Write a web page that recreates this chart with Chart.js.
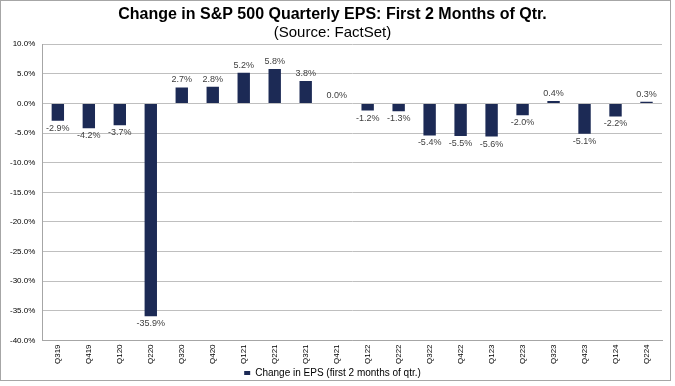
<!DOCTYPE html>
<html><head><meta charset="utf-8">
<script src="https://cdn.jsdelivr.net/npm/chart.js@4.4.1/dist/chart.umd.min.js"></script>
<style>html,body{margin:0;padding:0;background:#fff;}#wrap{width:675px;height:386px;position:relative;}</style>
</head><body><div id="wrap"><canvas id="c" width="675" height="386"></canvas></div>
<script>
const categories = ["Q319","Q419","Q120","Q220","Q320","Q420","Q121","Q221","Q321","Q421","Q122","Q222","Q322","Q422","Q123","Q223","Q323","Q423","Q124","Q224"];
const epsChange = [-2.9,-4.2,-3.7,-35.9,2.7,2.8,5.2,5.8,3.8,0.0,-1.2,-1.3,-5.4,-5.5,-5.6,-2.0,0.4,-5.1,-2.2,0.3];
const yTicks = [10,5,0,-5,-10,-15,-20,-25,-30,-35,-40];

const FONT = "'Liberation Sans', Arial, sans-serif";

const labelPlugin = {
  id: 'vals',
  afterDatasetsDraw(chart) {
    const ctx = chart.ctx;
    const meta = chart.getDatasetMeta(0);
    ctx.save();
    ctx.font = "9px " + FONT;
    ctx.fillStyle = "#404040";
    ctx.textAlign = "center";
    meta.data.forEach((bar, i) => {
      const v = epsChange[i];
      const txt = v.toFixed(1) + "%";
      if (v >= 0) {
        ctx.textBaseline = "bottom";
        ctx.fillText(txt, bar.x, bar.y - 3);
      } else {
        ctx.textBaseline = "top";
        ctx.fillText(txt, bar.x, bar.y + 3);
      }
    });
    ctx.restore();
  }
};
const framePlugin = {
  id: 'frame',
  afterDraw(chart) {
    const ctx = chart.ctx;
    ctx.save();
    ctx.strokeStyle = "#a6a6a6";
    ctx.lineWidth = 1;
    ctx.strokeRect(0.5, 0.5, 670, 380);
    ctx.restore();
  }
};

new Chart(document.getElementById('c'), {
  type: 'bar',
  data: {
    labels: categories,
    datasets: [{
      label: 'Change in EPS (first 2 months of qtr.)',
      data: epsChange,
      backgroundColor: '#1c2a55',
      borderColor: '#1c2a55',
      borderWidth: 0,
      barPercentage: 0.8,
      categoryPercentage: 0.5
    }]
  },
  options: {
    responsive: false,
    animation: false,
    devicePixelRatio: 1,
    layout: { padding: { left: 3, right: 13, top: 5, bottom: -2 } },
    plugins: {
      title: { display: true, text: 'Change in S&P 500 Quarterly EPS: First 2 Months of Qtr.', color: '#000', font: { family: FONT, size: 16, weight: 'bold' }, padding: { top: 0, bottom: 0 } },
      subtitle: { display: true, text: '(Source: FactSet)', color: '#000', font: { family: FONT, size: 15 }, padding: { top: 0, bottom: 2 } },
      legend: { position: 'bottom', labels: { color: '#000', font: { family: FONT, size: 10 }, boxWidth: 6, boxHeight: 4, padding: 0 } },
      tooltip: { enabled: false }
    },
    scales: {
      x: {
        grid: { display: false, drawTicks: false },
        border: { display: true, color: '#a6a6a6' },
        ticks: { color: '#000', font: { family: FONT, size: 8 }, maxRotation: 90, minRotation: 90, padding: 4, autoSkip: false }
      },
      y: {
        min: -40, max: 10,
        afterBuildTicks: (s) => { s.ticks = yTicks.map(v => ({ value: v })); },
        grid: { color: '#bfbfbf', drawTicks: false },
        border: { display: true, color: '#a6a6a6' },
        ticks: { color: '#000', font: { family: FONT, size: 8 }, padding: 7, callback: v => Number(v).toFixed(1) + '%' }
      }
    }
  },
  plugins: [labelPlugin, framePlugin]
});
</script></body></html>
